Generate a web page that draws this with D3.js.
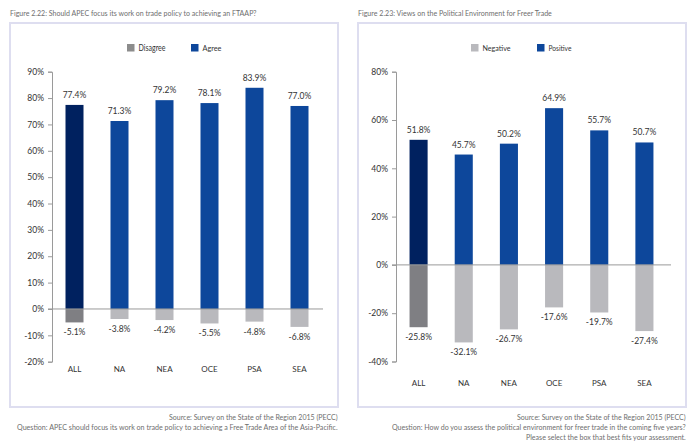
<!DOCTYPE html>
<html lang="en">

<head>
  <meta charset="UTF-8">
  <title>Figures 2.22 and 2.23</title>
  <script src="https://cdn.jsdelivr.net/npm/d3@7/dist/d3.min.js"></script>
  <style>
    html,
    body {
      margin: 0;
      background: #fff;
    }

    text {
      font-family: Lato, 'Open Sans', sans-serif;
    }
  </style>
</head>

<body>
  <script>
    const width = 700
    const height = 444

    // data
    const categories = ['ALL', 'NA', 'NEA', 'OCE', 'PSA', 'SEA']
    const agree = [77.4, 71.3, 79.2, 78.1, 83.9, 77.0]
    const disagree = [-5.1, -3.8, -4.2, -5.5, -4.8, -6.8]
    const positive = [51.8, 45.7, 50.2, 64.9, 55.7, 50.7]
    const negative = [-25.8, -32.1, -26.7, -17.6, -19.7, -27.4]
    const ticksLeft = [-20, -10, 0, 10, 20, 30, 40, 50, 60, 70, 80, 90]
    const ticksRight = [-40, -20, 0, 20, 40, 60, 80]

    const svg = d3.select('body').append('svg')
      .attr('width', width)
      .attr('height', height)
      .style('display', 'block')

    const colors = {
      pos: '#0d479b', posAll: '#00215f',
      neg: '#b9b9bd', negAll: '#7f7f83',
      frame: '#dedef0', axis: '#9a9a9a',
      note: '#6e6e6e', label: '#333'
    }

    // Lato is wider than the original font, so squeeze a text to a measured width
    function fitText(g, str, x, y, w, size, fill) {
      const t = g.append('text').attr('font-size', size).attr('fill', fill).text(str)
      const k = w / t.node().getComputedTextLength()
      t.attr('transform', `translate(${x},${y}) scale(${k},1)`)
    }

    function drawPanel(o) {
      const g = svg.append('g')

      // title and frame
      fitText(g, o.title, o.box[0], 16, o.titleWidth, 8, colors.note)
      g.append('rect')
        .attr('x', o.box[0]).attr('y', 23)
        .attr('width', o.box[1] - o.box[0]).attr('height', 384)
        .attr('fill', '#fff').attr('stroke', colors.frame).attr('stroke-width', 2)

      // scales
      const x = d3.scaleBand().domain(categories).range(o.xRange).paddingInner(0.6).paddingOuter(0.3)
      const y = d3.scaleLinear().domain(o.domain).range(o.yRange)

      // legend
      o.legend.forEach(l => {
        g.append('rect').attr('x', l.x).attr('y', 44).attr('width', 7.5).attr('height', 7.5).attr('fill', l.color)
        fitText(g, l.name, l.x + 11.5, 51, l.width, 8.5, colors.label)
      })

      // bars
      const series = [[o.pos, colors.pos, colors.posAll], [o.neg, colors.neg, colors.negAll]]
      series.forEach(([values, color, colorAll]) => {
        g.selectAll(null).data(values).enter().append('rect')
          .attr('x', (d, i) => x(categories[i]))
          .attr('y', d => Math.min(y(d), y(0)))
          .attr('width', x.bandwidth())
          .attr('height', d => Math.abs(y(d) - y(0)))
          .attr('fill', (d, i) => i === 0 ? colorAll : color)

        g.selectAll(null).data(values).enter().append('text')
          .attr('x', (d, i) => x(categories[i]) + x.bandwidth() / 2)
          .attr('y', d => d > 0 ? y(d) - 7 : y(d) + 13)
          .attr('text-anchor', 'middle')
          .attr('font-size', 8.5)
          .attr('fill', colors.label)
          .text(d => d.toFixed(1) + '%')
      })

      // y axis
      const gy = g.append('g')
        .attr('transform', `translate(${o.xRange[0]},0)`)
        .call(d3.axisLeft(y).tickValues(o.ticks).tickSize(4).tickPadding(4).tickFormat(d => d + '%'))
      gy.attr('font-family', null)
      gy.selectAll('path, line').attr('stroke', colors.axis).attr('stroke-width', 1)
      gy.selectAll('text').attr('font-size', 8.5).attr('fill', colors.label)

      // zero line
      g.append('line')
        .attr('x1', o.xRange[0] - 4).attr('x2', o.xRange[1] + o.zeroExtra)
        .attr('y1', y(0)).attr('y2', y(0))
        .attr('stroke', colors.axis).attr('stroke-width', 1)

      // category labels
      g.selectAll(null).data(categories).enter().append('text')
        .attr('x', d => x(d) + x.bandwidth() / 2)
        .attr('y', o.catY)
        .attr('text-anchor', 'middle')
        .attr('font-size', 8)
        .attr('fill', colors.label)
        .text(d => d)

      // notes, right aligned to the frame
      o.notes.forEach((n, i) => {
        fitText(g, n, o.box[1] - o.noteWidths[i], 420 + i * 10, o.noteWidths[i], 8, colors.note)
      })
    }

    drawPanel({
      title: 'Figure 2.22: Should APEC focus its work on trade policy to achieving an FTAAP?',
      titleWidth: 247,
      box: [10, 338],
      xRange: [52, 322],
      yRange: [361.7, 71.7],
      domain: [-20, 90],
      ticks: ticksLeft,
      pos: agree,
      neg: disagree,
      zeroExtra: 1,
      catY: 372,
      legend: [
        { name: 'Disagree', x: 127, width: 27, color: '#8c8c8c' },
        { name: 'Agree', x: 191, width: 19, color: colors.pos }
      ],
      notes: [
        'Source: Survey on the State of the Region 2015 (PECC)',
        'Question: APEC should focus its work on trade policy to achieving a Free Trade Area of the Asia-Pacific.'
      ],
      noteWidths: [169, 321]
    })

    drawPanel({
      title: 'Figure 2.23: Views on the Political Environment for Freer Trade',
      titleWidth: 194,
      box: [358, 686],
      xRange: [396, 667],
      yRange: [361.5, 71.7],
      domain: [-40, 80],
      ticks: ticksRight,
      pos: positive,
      neg: negative,
      zeroExtra: 4,
      catY: 386,
      legend: [
        { name: 'Negative', x: 471, width: 28, color: colors.neg },
        { name: 'Positive', x: 537, width: 23, color: colors.pos }
      ],
      notes: [
        'Source: Survey on the State of the Region 2015 (PECC)',
        'Question: How do you assess the political environment for freer trade in the coming five years?',
        'Please select the box that best fits your assessment.'
      ],
      noteWidths: [169, 294, 160]
    })
  </script>
</body>

</html>
